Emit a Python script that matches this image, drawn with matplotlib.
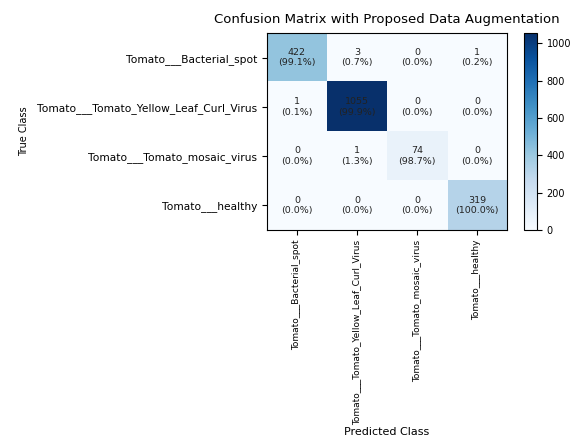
import numpy as np
import matplotlib
matplotlib.use("Agg")
import matplotlib.pyplot as plt

classes = [
    "Tomato___Bacterial_spot",
    "Tomato___Tomato_Yellow_Leaf_Curl_Virus",
    "Tomato___Tomato_mosaic_virus",
    "Tomato___healthy",
]
row_bacterial = [422, 3, 0, 1]
row_yellow = [1, 1055, 0, 0]
row_mosaic = [0, 1, 74, 0]
row_healthy = [0, 0, 0, 319]
cbar_ticks = [0, 200, 400, 600, 800, 1000]

cm = np.array([row_bacterial, row_yellow, row_mosaic, row_healthy])
pct = cm / cm.sum(axis=1, keepdims=True) * 100

fig = plt.figure(figsize=(5.86, 4.38), dpi=100)
ax = fig.add_axes([0.4556, 0.4749, 0.4096, 0.4498])
cax = fig.add_axes([0.894, 0.4749, 0.022, 0.4498])

im = ax.imshow(cm, cmap="Blues", aspect="auto", vmin=0, vmax=cm.max())
cb = fig.colorbar(im, cax=cax, ticks=cbar_ticks)
cb.ax.tick_params(labelsize=7)

for i in range(cm.shape[0]):
    for j in range(cm.shape[1]):
        ax.text(j, i, f"{cm[i, j]}\n({pct[i, j]:.1f}%)", ha="center", va="center",
                fontsize=6.8, color="#222222")

ax.set_xticks(range(len(classes)))
ax.set_yticks(range(len(classes)))
ax.set_xticklabels(classes, rotation=90, fontsize=6.5)
ax.set_yticklabels(classes, fontsize=7.7)
ax.set_xlabel("Predicted Class", fontsize=8, labelpad=1.5)
ax.set_ylabel("True Class", fontsize=7, labelpad=6)
ax.set_title("Confusion Matrix with Proposed Data Augmentation", fontsize=9.5, pad=7)

fig.savefig("out.png", dpi=100)
